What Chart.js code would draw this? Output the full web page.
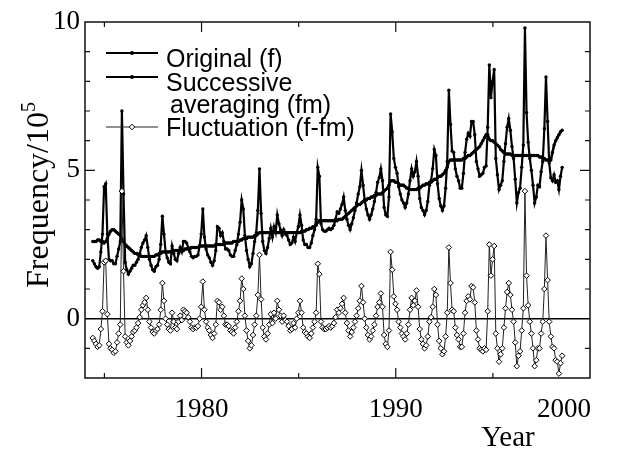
<!DOCTYPE html>
<html>
<head>
<meta charset="utf-8">
<title>Frequency / Year</title>
<script src="https://cdn.jsdelivr.net/npm/chart.js"></script>
<style>
  html, body { margin: 0; padding: 0; background: #fff; }
  #wrap { width: 627px; height: 452px; }
</style>
</head>
<body>
<div id="wrap"><canvas id="chart" width="627" height="452"></canvas></div>
<script>
// Monthly values, first point at 1974.4, one row = 12 months
const startYear = 1974.4;

// Original (f)
const original = [
  1.95, 1.85, 1.75, 1.7, 1.75, 2.25, 2.85, 4.45, 4.55, 2.85, 2.0, 1.95,
  1.95, 1.85, 1.85, 2.1, 2.35, 2.6, 7.0, 4.2, 1.9, 1.65, 1.5, 1.6,
  1.7, 1.8, 1.8, 1.9, 2.0, 2.2, 2.4, 2.55, 2.65, 2.8, 2.4, 2.0,
  1.8, 1.65, 1.6, 1.75, 1.8, 2.0, 2.5, 3.45, 2.85, 2.25, 2.05, 1.9,
  1.85, 2.45, 2.2, 2.0, 1.95, 2.2, 2.4, 2.25, 2.6, 2.6, 2.55, 2.4,
  2.25, 2.1, 2.05, 2.1, 2.1, 2.15, 2.45, 2.85, 3.7, 2.75, 2.35, 2.15,
  2.05, 1.9, 1.8, 1.95, 2.3, 3.1, 3.05, 2.8, 2.9, 2.6, 2.35, 2.35,
  2.3, 2.15, 2.1, 2.1, 2.3, 2.5, 2.85, 3.25, 4.0, 3.7, 2.8, 2.3,
  2.0, 1.75, 1.85, 2.2, 2.6, 2.9, 3.65, 5.05, 3.55, 2.6, 2.3, 2.2,
  2.4, 2.7, 3.05, 2.75, 3.1, 2.9, 3.5, 3.2, 3.0, 2.8, 3.0, 2.85,
  2.8, 2.65, 2.5, 2.55, 2.75, 2.6, 2.9, 3.1, 3.5, 3.15, 2.65, 2.5,
  2.5, 2.4, 2.4, 2.55, 2.8, 3.0, 3.35, 5.1, 4.8, 3.2, 3.0, 2.95,
  2.95, 3.0, 3.05, 3.0, 3.05, 3.15, 3.35, 3.6, 3.55, 3.7, 3.85, 4.1,
  3.65, 3.35, 3.15, 3.0, 3.2, 3.4, 3.65, 3.9, 4.2, 4.45, 5.0, 4.5,
  4.0, 3.7, 3.5, 3.35, 3.5, 3.7, 3.95, 4.25, 4.6, 4.75, 5.05, 4.65,
  3.75, 3.5, 3.45, 4.1, 6.9, 6.3, 5.4, 5.1, 4.9, 4.45, 4.2, 4.0,
  3.9, 3.75, 3.9, 4.2, 4.65, 5.05, 4.8, 4.95, 5.3, 4.8, 4.05, 3.75,
  3.65, 3.5, 3.65, 3.95, 4.5, 4.65, 5.05, 5.7, 5.5, 4.55, 4.05, 3.8,
  3.65, 3.8, 4.4, 5.3, 7.7, 6.55, 5.65, 5.6, 5.05, 4.8, 4.65, 4.4,
  4.4, 4.9, 5.6, 6.05, 6.25, 6.15, 6.65, 6.65, 6.2, 5.3, 5.05, 4.8,
  4.85, 4.9, 5.1, 5.15, 6.45, 8.55, 7.45, 8.0, 8.4, 5.4, 4.85, 4.35,
  4.5, 4.65, 5.3, 5.9, 6.45, 6.75, 6.35, 5.8, 5.4, 4.7, 3.9, 4.25,
  4.4, 5.1, 5.85, 9.8, 6.95, 5.95, 5.4, 5.0, 4.5, 3.9, 4.1, 4.5,
  4.45, 4.95, 5.3, 6.4, 8.15, 6.65, 5.25, 4.75, 4.65, 4.85, 4.6, 4.65,
  4.35, 4.8, 5.1
];

// Successive averaging (fm)
const averaged = [
  2.6, 2.6, 2.6, 2.65, 2.65, 2.6, 2.6, 2.55, 2.6, 2.7, 2.85, 2.95,
  3.0, 3.0, 2.95, 2.9, 2.85, 2.8, 2.7, 2.6, 2.5, 2.45, 2.4, 2.35,
  2.3, 2.25, 2.2, 2.2, 2.15, 2.15, 2.1, 2.1, 2.1, 2.1, 2.1, 2.1,
  2.1, 2.1, 2.1, 2.15, 2.15, 2.2, 2.2, 2.25, 2.25, 2.25, 2.25, 2.25,
  2.25, 2.25, 2.3, 2.3, 2.3, 2.3, 2.3, 2.3, 2.3, 2.35, 2.35, 2.35,
  2.35, 2.4, 2.4, 2.4, 2.4, 2.4, 2.45, 2.45, 2.45, 2.45, 2.45, 2.45,
  2.45, 2.45, 2.45, 2.45, 2.5, 2.5, 2.5, 2.5, 2.5, 2.5, 2.55, 2.55,
  2.55, 2.55, 2.55, 2.6, 2.6, 2.6, 2.6, 2.65, 2.65, 2.7, 2.7, 2.7,
  2.75, 2.75, 2.75, 2.75, 2.8, 2.8, 2.85, 2.9, 2.9, 2.9, 2.9, 2.9,
  2.9, 2.9, 2.9, 2.9, 2.9, 2.9, 2.9, 2.9, 2.9, 2.9, 2.9, 2.9,
  2.9, 2.9, 2.9, 2.9, 2.9, 2.9, 2.9, 2.9, 2.9, 2.95, 2.95, 2.95,
  3.0, 3.0, 3.05, 3.05, 3.1, 3.1, 3.15, 3.25, 3.3, 3.3, 3.3, 3.3,
  3.3, 3.3, 3.3, 3.3, 3.3, 3.3, 3.3, 3.3, 3.35, 3.35, 3.35, 3.4,
  3.45, 3.5, 3.55, 3.6, 3.65, 3.7, 3.75, 3.8, 3.85, 3.85, 3.9, 3.95,
  4.0, 4.0, 4.05, 4.05, 4.1, 4.1, 4.15, 4.15, 4.2, 4.2, 4.2, 4.25,
  4.3, 4.35, 4.4, 4.5, 4.65, 4.65, 4.65, 4.6, 4.6, 4.55, 4.5, 4.5,
  4.5, 4.45, 4.4, 4.4, 4.35, 4.35, 4.35, 4.35, 4.35, 4.4, 4.4, 4.45,
  4.5, 4.5, 4.55, 4.55, 4.6, 4.6, 4.65, 4.7, 4.7, 4.75, 4.8, 4.8,
  4.85, 4.9, 5.0, 5.1, 5.3, 5.35, 5.35, 5.35, 5.35, 5.35, 5.35, 5.35,
  5.35, 5.4, 5.4, 5.45, 5.5, 5.5, 5.55, 5.6, 5.65, 5.7, 5.75, 5.8,
  5.9, 6.0, 6.1, 6.2, 6.2, 6.05, 6.0, 6.0, 5.95, 5.9, 5.85, 5.8,
  5.7, 5.65, 5.6, 5.55, 5.55, 5.55, 5.55, 5.5, 5.5, 5.5, 5.5, 5.5,
  5.5, 5.5, 5.5, 5.5, 5.5, 5.5, 5.5, 5.5, 5.5, 5.5, 5.5, 5.5,
  5.45, 5.45, 5.4, 5.4, 5.35, 5.35, 5.35, 5.35, 5.6, 5.85, 6.0, 6.1,
  6.2, 6.3, 6.35
];

// Fluctuation (f-fm)
const fluctuation = [
  -0.65, -0.75, -0.85, -0.95, -0.9, -0.35, 0.25, 1.9, 1.95, 0.15, -0.85, -1.0,
  -1.05, -1.15, -1.1, -0.8, -0.5, -0.2, 4.3, 1.6, -0.6, -0.8, -0.9, -0.75,
  -0.6, -0.45, -0.4, -0.3, -0.15, 0.05, 0.3, 0.45, 0.55, 0.7, 0.3, -0.1,
  -0.3, -0.45, -0.5, -0.4, -0.35, -0.2, 0.3, 1.2, 0.6, 0.0, -0.2, -0.35,
  -0.4, 0.2, -0.1, -0.3, -0.35, -0.1, 0.1, -0.05, 0.3, 0.25, 0.2, 0.05,
  -0.1, -0.3, -0.35, -0.3, -0.3, -0.25, 0.0, 0.4, 1.25, 0.3, -0.1, -0.3,
  -0.4, -0.55, -0.65, -0.5, -0.2, 0.6, 0.55, 0.3, 0.4, 0.1, -0.2, -0.2,
  -0.25, -0.4, -0.45, -0.5, -0.3, -0.1, 0.25, 0.6, 1.35, 1.0, 0.1, -0.4,
  -0.75, -1.0, -0.9, -0.55, -0.2, 0.1, 0.8, 2.15, 0.65, -0.3, -0.6, -0.7,
  -0.5, -0.2, 0.15, -0.15, 0.2, 0.0, 0.6, 0.3, 0.1, -0.1, 0.1, -0.05,
  -0.1, -0.25, -0.4, -0.35, -0.15, -0.3, 0.0, 0.2, 0.6, 0.2, -0.3, -0.45,
  -0.5, -0.6, -0.65, -0.5, -0.3, -0.1, 0.2, 1.85, 1.5, -0.1, -0.3, -0.35,
  -0.35, -0.3, -0.25, -0.3, -0.25, -0.15, 0.05, 0.3, 0.2, 0.35, 0.5, 0.7,
  0.2, -0.15, -0.4, -0.6, -0.45, -0.3, -0.1, 0.1, 0.35, 0.6, 1.1, 0.55,
  0.0, -0.3, -0.55, -0.7, -0.6, -0.4, -0.2, 0.1, 0.4, 0.55, 0.85, 0.4,
  -0.55, -0.85, -0.95, -0.4, 2.25, 1.65, 0.75, 0.5, 0.3, -0.1, -0.3, -0.5,
  -0.6, -0.7, -0.5, -0.2, 0.3, 0.7, 0.45, 0.6, 0.95, 0.4, -0.35, -0.7,
  -0.85, -1.0, -0.9, -0.6, -0.1, 0.05, 0.4, 1.0, 0.8, -0.2, -0.75, -1.0,
  -1.2, -1.1, -0.6, 0.2, 2.4, 1.2, 0.3, 0.25, -0.3, -0.55, -0.7, -0.95,
  -0.95, -0.5, 0.2, 0.6, 0.75, 0.65, 1.1, 1.05, 0.55, -0.4, -0.7, -1.0,
  -1.05, -1.1, -1.0, -1.05, 0.25, 2.5, 1.45, 2.0, 2.45, -0.5, -1.0, -1.45,
  -1.2, -1.0, -0.3, 0.35, 0.9, 1.2, 0.8, 0.3, -0.1, -0.8, -1.6, -1.25,
  -1.1, -0.4, 0.35, 4.3, 1.45, 0.45, -0.1, -0.5, -1.0, -1.6, -1.4, -1.0,
  -1.0, -0.5, -0.1, 1.0, 2.8, 1.3, -0.1, -0.6, -0.95, -1.0, -1.4, -1.45,
  -1.85, -1.5, -1.25
];

// Axis ticks
const xTickMarks = [1975, 1980, 1985, 1990, 1995];
const xTickLabels = [1980, 1990, 2000];
const yTickMarks = [-1, 1, 2, 3, 4, 5, 6, 7, 8, 9];
const yTickLabels = [0, 5, 10];

const serif = '"Liberation Serif", "Times New Roman", serif';
const sans = '"Liberation Sans", Arial, sans-serif';

// turn a monthly list into {x, y} points
function toPoints(values) {
    return values.map((v, i) => ({ x: startYear + i / 12, y: v }));
}

// diamond marker, used in the legend
function diamond(ctx, x, y, r) {
    ctx.beginPath();
    ctx.moveTo(x, y - r);
    ctx.lineTo(x + r, y);
    ctx.lineTo(x, y + r);
    ctx.lineTo(x - r, y);
    ctx.closePath();
    ctx.fillStyle = '#fff';
    ctx.fill();
    ctx.lineWidth = 1;
    ctx.strokeStyle = '#000';
    ctx.stroke();
}

// frame, inward ticks, zero line, x labels, axis titles and the legend
const decor = {
    id: 'decor',
    beforeDatasetsDraw(chart) {
        const { ctx, chartArea: a, scales: { y } } = chart;
        const y0 = y.getPixelForValue(0);
        ctx.save();
        ctx.strokeStyle = '#000';
        ctx.lineWidth = 1.5;
        ctx.beginPath();
        ctx.moveTo(a.left, y0);
        ctx.lineTo(a.right, y0);
        ctx.stroke();
        ctx.restore();
    },
    afterDatasetsDraw(chart) {
        const { ctx, chartArea: a, scales: { x, y } } = chart;
        ctx.save();

        // frame
        ctx.strokeStyle = '#111';
        ctx.lineWidth = 1.5;
        ctx.strokeRect(a.left, a.top, a.right - a.left, a.bottom - a.top);

        // ticks pointing inside, on all four sides
        ctx.lineWidth = 1.2;
        ctx.beginPath();
        xTickMarks.forEach(v => {
            const px = x.getPixelForValue(v);
            const len = xTickLabels.includes(v) ? 10 : 5;
            ctx.moveTo(px, a.bottom); ctx.lineTo(px, a.bottom - len);
            ctx.moveTo(px, a.top); ctx.lineTo(px, a.top + len);
        });
        yTickMarks.forEach(v => {
            const py = y.getPixelForValue(v);
            const len = yTickLabels.includes(v) ? 10 : 5;
            ctx.moveTo(a.left, py); ctx.lineTo(a.left + len, py);
            ctx.moveTo(a.right, py); ctx.lineTo(a.right - len, py);
        });
        ctx.stroke();

        // x tick labels (the last one is kept inside the frame)
        ctx.fillStyle = '#000';
        ctx.font = '27px ' + serif;
        ctx.textBaseline = 'alphabetic';
        xTickLabels.forEach(v => {
            const px = x.getPixelForValue(v);
            ctx.textAlign = v === x.max ? 'right' : 'center';
            ctx.fillText(String(v), v === x.max ? px + 1 : px, 417);
        });

        // x title
        ctx.font = '29px ' + serif;
        ctx.textAlign = 'center';
        ctx.fillText('Year', 508, 446);

        // y title, rotated, with a superscript 5
        ctx.save();
        ctx.translate(48, 195);
        ctx.rotate(-Math.PI / 2);
        ctx.font = '32px ' + serif;
        const main = 'Frequency/10';
        const w1 = ctx.measureText(main).width;
        ctx.font = '20px ' + serif;
        const w2 = ctx.measureText('5').width;
        ctx.textAlign = 'left';
        ctx.font = '32px ' + serif;
        ctx.fillText(main, -(w1 + w2) / 2, 0);
        ctx.font = '20px ' + serif;
        ctx.fillText('5', -(w1 + w2) / 2 + w1, -13);
        ctx.restore();

        // legend
        const ds = chart.data.datasets;
        const items = [
            { set: ds[1], text: 'Original (f)', lineY: 53, textY: 67 },
            { set: ds[2], text: 'Successive', lineY: 77, textY: 91 },
            { set: null, text: 'averaging (fm)', textY: 113, indent: 4 },
            { set: ds[0], text: 'Fluctuation (f-fm)', lineY: 127, textY: 136 }
        ];
        ctx.font = '25px ' + sans;
        ctx.textAlign = 'left';
        items.forEach(item => {
            if (item.set) {
                ctx.strokeStyle = item.set.borderColor;
                ctx.lineWidth = Math.min(item.set.borderWidth, 2);
                ctx.beginPath();
                ctx.moveTo(106, item.lineY);
                ctx.lineTo(158, item.lineY);
                ctx.stroke();
                if (item.set.pointStyle === 'rectRot') {
                    diamond(ctx, 132, item.lineY, item.set.pointRadius);
                } else {
                    ctx.fillStyle = '#000';
                    ctx.beginPath();
                    ctx.arc(132, item.lineY, 2, 0, Math.PI * 2);
                    ctx.fill();
                }
            }
            ctx.fillStyle = '#000';
            ctx.fillText(item.text, 166 + (item.indent || 0), item.textY);
        });

        ctx.restore();
    }
};

const ctx = document.getElementById('chart').getContext('2d');

new Chart(ctx, {
    type: 'line',
    data: {
        datasets: [
            {
                label: 'Fluctuation (f-fm)',
                data: toPoints(fluctuation),
                borderColor: '#222',
                borderWidth: 1,
                pointStyle: 'rectRot',
                pointRadius: 2.8,
                pointBackgroundColor: '#fff',
                pointBorderColor: '#000',
                pointBorderWidth: 1,
                order: 0
            },
            {
                label: 'Original (f)',
                data: toPoints(original),
                borderColor: '#000',
                borderWidth: 2.2,
                pointRadius: 1.7,
                pointBackgroundColor: '#000',
                pointBorderWidth: 0,
                order: 1
            },
            {
                label: 'Successive averaging (fm)',
                data: toPoints(averaged),
                borderColor: '#000',
                borderWidth: 2.6,
                pointRadius: 1.7,
                pointBackgroundColor: '#000',
                pointBorderWidth: 0,
                order: 2
            }
        ]
    },
    options: {
        responsive: false,
        animation: false,
        layout: { padding: { left: 0, right: 37, top: 22, bottom: 74 } },
        plugins: {
            legend: { display: false },
            tooltip: { enabled: false }
        },
        scales: {
            x: {
                type: 'linear',
                min: 1974,
                max: 2000,
                grid: { display: false },
                border: { display: false },
                ticks: { display: false },
                afterFit: scale => { scale.height = 0; }
            },
            y: {
                type: 'linear',
                min: -2,
                max: 10,
                grid: { display: false, drawTicks: false },
                border: { display: false },
                afterBuildTicks: scale => {
                    scale.ticks = yTickLabels.map(v => ({ value: v }));
                },
                afterFit: scale => { scale.width = 85; },
                ticks: {
                    color: '#000',
                    padding: 5,
                    font: { family: serif, size: 27 }
                }
            }
        }
    },
    plugins: [decor]
});
</script>
</body>
</html>
